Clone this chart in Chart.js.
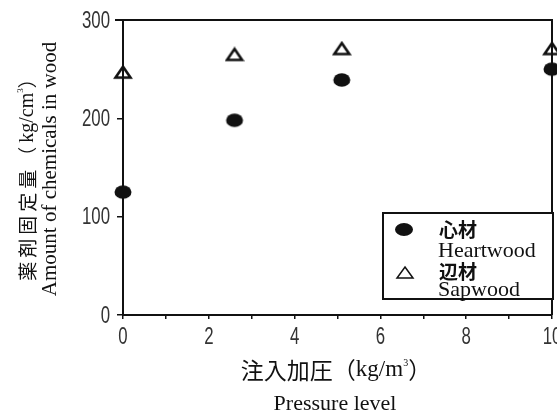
<!DOCTYPE html>
<html><head><meta charset="utf-8">
<script src="https://cdn.jsdelivr.net/npm/chart.js@4"></script>
<style>html,body{margin:0;background:#fff}canvas{display:block}</style>
</head><body>
<canvas id="c" width="557" height="416"></canvas>
<script>
// pressure level (x) and fixed chemical amount (y)
const pressure = [0, 2.6, 5.1, 10];
const heartwood = [125, 198, 239, 250];
const sapwood = [247, 265, 271, 271];
const xLabels = ['0', '2', '4', '6', '8', '10'];
const yLabels = ['0', '100', '200', '300'];

const SERIF = '"Liberation Serif", "DejaVu Serif", serif';
const CJK = '"Noto Sans CJK JP", sans-serif';
const TICK = '24px "Liberation Sans", Arial, sans-serif';

function pts(ys) { return pressure.map((x, i) => ({ x, y: ys[i] })); }

// marker images: flattened dot and open triangle as in the print
function dot() {
    const c = document.createElement('canvas'); c.width = 20; c.height = 16;
    const g = c.getContext('2d');
    g.fillStyle = '#111'; g.beginPath(); g.ellipse(10, 8, 8.5, 6.8, 0, 0, Math.PI * 2); g.fill();
    return c;
}
function tri() {
    const c = document.createElement('canvas'); c.width = 20; c.height = 16;
    const g = c.getContext('2d');
    g.strokeStyle = '#111'; g.lineWidth = 2.6; g.lineJoin = 'miter';
    g.beginPath(); g.moveTo(10, 2.5); g.lineTo(17.5, 13.5); g.lineTo(2.5, 13.5); g.closePath(); g.stroke();
    return c;
}

function mixed(ctx, parts, cx, cy) {
    let w = 0;
    parts.forEach(p => { ctx.font = p.f; ctx.letterSpacing = p.ls || '0px'; w += ctx.measureText(p.t).width; });
    let x = cx - w / 2;
    parts.forEach(p => {
        ctx.font = p.f; ctx.letterSpacing = p.ls || '0px';
        ctx.fillText(p.t, x, cy + (p.dy || 0));
        x += ctx.measureText(p.t).width;
    });
    ctx.letterSpacing = '0px';
}

// condensed tick label, drawn at the scale's own pixel
function tickText(ctx, t, x, y, align) {
    ctx.save();
    ctx.translate(x, y); ctx.scale(0.7, 1);
    ctx.font = TICK; ctx.textAlign = align; ctx.textBaseline = 'middle';
    ctx.fillText(t, 0, 0);
    ctx.restore();
}

const decor = {
    id: 'decor',
    afterDraw(chart) {
        const { ctx, chartArea: a, scales } = chart;
        ctx.save();
        ctx.strokeStyle = '#111'; ctx.lineWidth = 2;
        ctx.beginPath();
        ctx.moveTo(a.left - 8, a.top); ctx.lineTo(a.right, a.top); ctx.lineTo(a.right, a.bottom);
        ctx.stroke();

        ctx.fillStyle = '#333';
        xLabels.forEach((t, i) => tickText(ctx, t, scales.x.getPixelForValue(i * 2), 337, 'center'));
        yLabels.forEach((t, i) => tickText(ctx, t, 110, scales.y.getPixelForValue(i * 100) + 1, 'right'));

        ctx.fillStyle = '#111';
        ctx.textBaseline = 'middle'; ctx.textAlign = 'left';
        // x title
        mixed(ctx, [
            { t: '注入加圧（', f: '23px ' + CJK },
            { t: 'kg/m', f: '23px ' + SERIF },
            { t: '3', f: '10px ' + SERIF, dy: -7 },
            { t: '）', f: '23px ' + CJK }
        ], 336, 370);
        mixed(ctx, [{ t: 'Pressure level', f: '22px ' + SERIF }], 335, 404);

        // y title, two rotated lines
        ctx.save();
        ctx.translate(28, 175); ctx.rotate(-Math.PI / 2);
        mixed(ctx, [
            { t: '薬剤固定量（', f: '19px ' + CJK, ls: '4px' },
            { t: 'kg/cm', f: '20px ' + SERIF },
            { t: '3', f: '9px ' + SERIF, dy: -7 },
            { t: '）', f: '19px ' + CJK }
        ], 0, 0);
        ctx.restore();
        ctx.save();
        ctx.translate(50, 169); ctx.rotate(-Math.PI / 2);
        mixed(ctx, [{ t: 'Amount of chemicals in wood', f: '21px ' + SERIF }], 0, 0);
        ctx.restore();

        // legend box
        const bx = 383, by = 213, bw = 170, bh = 86;
        ctx.fillStyle = '#fff'; ctx.fillRect(bx, by, bw, bh);
        ctx.strokeStyle = '#111'; ctx.lineWidth = 2; ctx.strokeRect(bx, by, bw, bh);
        ctx.fillStyle = '#111';
        ctx.beginPath(); ctx.ellipse(404, 229.5, 9, 6.5, 0, 0, Math.PI * 2); ctx.fill();
        ctx.lineWidth = 1.5;
        ctx.beginPath(); ctx.moveTo(405, 267); ctx.lineTo(413, 278); ctx.lineTo(397, 278); ctx.closePath(); ctx.stroke();
        ctx.font = 'bold 19px ' + CJK;
        ctx.fillText('心材', 439, 230);
        ctx.fillText('辺材', 439, 272);
        ctx.font = '22px ' + SERIF;
        ctx.fillText('Heartwood', 438, 251);
        ctx.fillText('Sapwood', 438, 290);
        ctx.restore();
    }
};

new Chart(document.getElementById('c'), {
    type: 'scatter',
    data: {
        datasets: [
            { label: '心材 Heartwood', data: pts(heartwood), pointStyle: dot(), clip: false },
            { label: '辺材 Sapwood', data: pts(sapwood), pointStyle: tri(), clip: false }
        ]
    },
    options: {
        responsive: false, animation: false,
        layout: { padding: { top: 20, right: 2, left: 0, bottom: 0 } },
        plugins: { legend: { display: false }, tooltip: { enabled: false } },
        scales: {
            x: {
                type: 'linear', min: 0, max: 10,
                afterFit: s => { s.height = 101; s.paddingLeft = 0; s.paddingRight = 0; },
                afterBuildTicks: s => { s.ticks = [0, 1, 2, 3, 4, 5, 6, 7, 8, 9, 10].map(v => ({ value: v })); },
                ticks: { display: false },
                grid: { drawOnChartArea: false, tickLength: 4, color: '#111', lineWidth: 1.5 },
                border: { color: '#111', width: 2 }
            },
            y: {
                min: 0, max: 300,
                afterFit: s => { s.width = 123; },
                ticks: { display: false, stepSize: 100 },
                grid: { drawOnChartArea: false, tickLength: 6, color: '#111', lineWidth: 1.5 },
                border: { color: '#111', width: 2 }
            }
        }
    },
    plugins: [decor]
});
</script>
</body></html>
